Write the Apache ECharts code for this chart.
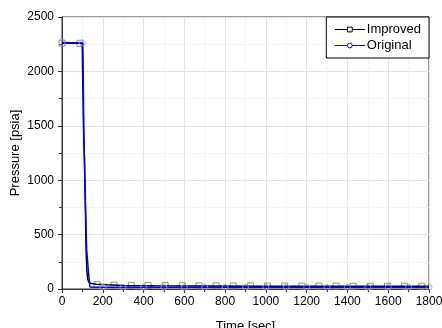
<!DOCTYPE html>
<html>
<head>
<meta charset="utf-8">
<script src="https://cdn.jsdelivr.net/npm/echarts@6/dist/echarts.min.js"></script>
<style>
  html, body { margin: 0; padding: 0; background: #fff; }
  #chart { width: 442px; height: 328px; }
</style>
</head>
<body>
<div id="chart"></div>
<script>
// curve data
const improvedTime = [0, 50, 99, 101, 103, 106, 109, 114, 118, 122, 126, 132, 145, 170, 220, 300, 450, 700, 1000, 1400, 1800];
const improvedPres = [2260, 2259, 2258, 2240, 1800, 1450, 1280, 820, 360, 170, 95, 62, 50, 43, 38, 33, 30, 28, 26, 25, 25];
const originalTime = [0, 50, 102, 104, 107, 110, 115, 121, 130, 137, 160, 250, 500, 1000, 1800];
const originalPres = [2265, 2264, 2262, 2000, 1400, 1200, 800, 360, 150, 18, 16, 15, 15, 15, 15];

// marker positions
const improvedMarkT = [0, 88, 172, 255, 340, 422, 506, 590, 672, 756, 840, 925, 1008, 1092, 1176, 1260, 1344, 1428, 1512, 1596, 1680, 1764];
const improvedMarkP = [2260, 2258, 42, 36, 33, 32, 31, 30, 29, 29, 28, 28, 27, 27, 26, 26, 26, 25, 25, 25, 25, 25];
const originalMarkT = [0, 100, 200, 300, 400, 500, 600, 700, 800, 900, 1000, 1100, 1200, 1300, 1400, 1500, 1600, 1700, 1800];
const originalMarkP = [2265, 2262, 16, 15, 15, 15, 15, 15, 15, 15, 15, 15, 15, 15, 15, 15, 15, 15, 15];

const zip = (a, b) => a.map((v, i) => [v, b[i]]);

const chart = echarts.init(document.getElementById('chart'));
const font = 'Liberation Sans, Arial, sans-serif';

chart.setOption({
  animation: false,
  textStyle: { fontFamily: font },
  grid: {
    left: 62, right: 13, top: 17, bottom: 39,
    outerBoundsMode: 'none',
    show: true, borderColor: '#333', borderWidth: 1
  },
  legend: {
    data: ['Improved', 'Original'],
    orient: 'vertical',
    right: 13, top: 17,
    backgroundColor: '#fff',
    borderColor: '#000', borderWidth: 1, borderRadius: 0,
    padding: [6, 8, 6, 8],
    itemGap: 3,
    itemWidth: 30, itemHeight: 6,
    lineStyle: { width: 1 },
    itemStyle: { borderWidth: 1 },
    textStyle: { fontSize: 13, color: '#000', fontFamily: font, padding: [0, 0, 0, -3] }
  },
  xAxis: {
    type: 'value',
    min: 0, max: 1800, interval: 200,
    name: 'Time [sec]', nameLocation: 'middle', nameGap: 31,
    nameMoveOverlap: false,
    nameTextStyle: { fontSize: 13, color: '#000' },
    axisLine: { lineStyle: { color: '#333' } },
    axisTick: { inside: false, length: 4, lineStyle: { color: '#333' } },
    minorTick: { show: true, splitNumber: 2, length: 3, lineStyle: { color: '#333' } },
    axisLabel: { fontSize: 12, color: '#000', margin: 7, formatter: v => String(v) },
    splitLine: { show: true, lineStyle: { color: '#e4e4e4' } },
    minorSplitLine: { show: true, lineStyle: { color: '#ececec', type: 'dotted' } }
  },
  yAxis: {
    type: 'value',
    min: 0, max: 2500, interval: 500,
    name: 'Pressure [psia]', nameLocation: 'middle', nameGap: 40,
    nameMoveOverlap: false,
    nameTextStyle: { fontSize: 13, color: '#000' },
    axisLine: { show: true, lineStyle: { color: '#333' } },
    axisTick: { show: true, inside: false, length: 4, lineStyle: { color: '#333' } },
    minorTick: { show: true, splitNumber: 2, length: 3, lineStyle: { color: '#333' } },
    axisLabel: { fontSize: 12, color: '#000', margin: 8, formatter: v => String(v) },
    splitLine: { show: true, lineStyle: { color: '#e4e4e4' } },
    minorSplitLine: { show: true, lineStyle: { color: '#ececec', type: 'dotted' } }
  },
  series: [
    {
      name: 'Improved', type: 'line',
      data: zip(improvedTime, improvedPres),
      showSymbol: false, symbol: 'rect', symbolSize: 6,
      lineStyle: { color: '#000', width: 1.5 },
      itemStyle: { color: '#fff', borderColor: '#000', borderWidth: 1 },
      z: 3
    },
    {
      name: 'Original', type: 'line',
      data: zip(originalTime, originalPres),
      showSymbol: false, symbol: 'circle', symbolSize: 6,
      lineStyle: { color: '#0000ff', width: 1.5 },
      itemStyle: { color: '#fff', borderColor: '#0000ff', borderWidth: 1 },
      z: 4
    },
    {
      name: 'Improved markers', type: 'scatter',
      data: zip(improvedMarkT, improvedMarkP),
      symbol: 'rect', symbolSize: 6,
      itemStyle: { color: 'rgba(255,255,255,0)', borderColor: '#777', borderWidth: 1 },
      z: 2
    },
    {
      name: 'Original markers', type: 'scatter',
      data: zip(originalMarkT, originalMarkP),
      symbol: 'circle', symbolSize: 6,
      itemStyle: { color: 'rgba(255,255,255,0)', borderColor: '#9a9aff', borderWidth: 1 },
      z: 5
    }
  ]
});
</script>
</body>
</html>
